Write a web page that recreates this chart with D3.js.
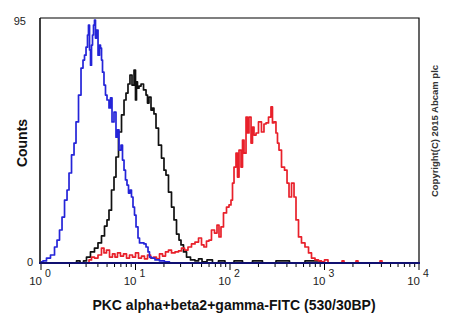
<!DOCTYPE html>
<html>
<head>
<meta charset="utf-8">
<script src="https://cdn.jsdelivr.net/npm/d3@7"></script>
<style>
body { margin: 0; background: #fff; }
text { font-family: "Liberation Sans", Arial, sans-serif; }
</style>
</head>
<body>
<script>
// decades shown on the x axis (log10 of fluorescence)
var decades = [0, 1, 2, 3, 4];
var minorMult = [2, 3, 4, 5, 6, 7, 8, 9];
var yTicks = [0, 95];

// histograms: [log10 fluorescence, counts]
var blue = [[0.000,0.4],[0.042,0.8],[0.074,1.9],[0.127,3.1],[0.159,6.2],[0.180,8.9],[0.212,12.8],[0.233,17.8],[0.265,24.4],[0.286,28.3],[0.307,34.9],[0.339,41.9],[0.360,46.5],[0.381,54.7],[0.413,65.1],[0.434,75.6],[0.455,78.7],[0.466,80.6],[0.487,83.7],[0.497,88.4],[0.508,92.2],[0.519,82.6],[0.529,76.7],[0.540,84.5],[0.550,88.4],[0.561,92.2],[0.571,94.2],[0.582,87.2],[0.593,90.3],[0.614,80.6],[0.624,84.5],[0.635,83.3],[0.646,78.7],[0.656,74.0],[0.677,69.0],[0.688,65.1],[0.709,63.2],[0.730,60.1],[0.741,64.0],[0.762,54.7],[0.783,58.5],[0.804,48.8],[0.815,51.6],[0.836,43.8],[0.857,45.7],[0.868,39.9],[0.889,36.0],[0.899,32.2],[0.921,30.2],[0.931,27.1],[0.952,28.3],[0.963,25.6],[0.984,21.7],[0.995,18.6],[1.016,14.0],[1.037,9.7],[1.048,7.8],[1.079,7.8],[1.101,7.4],[1.122,6.2],[1.143,4.3],[1.153,2.3],[1.185,1.9],[1.228,1.2],[1.280,0.8],[1.333,0.4],[1.386,0],[4,0]];

var black = [[0,0],[0.360,0],[0.392,0.8],[0.434,0],[0.466,0.8],[0.497,2.3],[0.550,4.3],[0.582,5.8],[0.624,7.8],[0.656,10.5],[0.688,14.3],[0.709,16.7],[0.730,20.5],[0.762,28.3],[0.783,33.3],[0.804,41.1],[0.836,50.8],[0.868,57.4],[0.889,63.2],[0.910,65.9],[0.931,69.4],[0.952,72.9],[0.974,69.0],[0.995,74.8],[1.005,63.2],[1.016,70.2],[1.026,67.8],[1.048,68.6],[1.069,69.4],[1.101,67.1],[1.122,65.1],[1.132,62.0],[1.153,64.3],[1.175,59.3],[1.185,60.1],[1.206,57.8],[1.228,52.3],[1.259,45.7],[1.291,40.7],[1.312,36.0],[1.333,34.1],[1.365,27.5],[1.397,21.7],[1.418,16.7],[1.450,11.2],[1.471,8.9],[1.492,7.0],[1.524,4.3],[1.556,2.3],[1.608,1.2],[1.651,0.8],[1.683,1.6],[1.725,0.4],[1.788,1.2],[1.841,0],[1.915,0.8],[1.979,0],[2.106,0.8],[2.159,0],[2.317,0.8],[2.370,0],[2.603,0.8],[2.656,0],[2.931,0.8],[2.974,0],[4,0]];

var red = [[0,0],[0.497,0],[0.519,1.2],[0.550,2.3],[0.582,1.9],[0.624,3.1],[0.656,5.8],[0.677,3.9],[0.709,5.0],[0.741,2.3],[0.772,3.5],[0.794,2.3],[0.825,3.9],[0.857,2.7],[0.889,3.5],[0.921,1.9],[0.952,3.1],[0.984,2.3],[1.016,3.9],[1.048,1.9],[1.079,2.7],[1.111,1.6],[1.143,3.1],[1.175,1.9],[1.206,2.3],[1.238,1.6],[1.270,3.5],[1.302,2.7],[1.333,4.3],[1.365,5.0],[1.397,3.9],[1.439,4.3],[1.471,4.7],[1.503,5.8],[1.534,5.0],[1.577,6.2],[1.608,7.4],[1.651,8.1],[1.683,9.7],[1.714,7.0],[1.735,6.2],[1.767,8.5],[1.788,8.9],[1.820,12.8],[1.852,11.6],[1.873,14.7],[1.894,10.1],[1.915,14.0],[1.947,19.4],[1.979,21.7],[2.000,22.5],[2.021,24.4],[2.032,31.0],[2.053,37.2],[2.074,42.6],[2.085,33.3],[2.106,43.8],[2.127,37.2],[2.138,47.7],[2.159,42.6],[2.180,56.6],[2.190,50.4],[2.212,56.6],[2.233,46.5],[2.243,52.7],[2.265,49.6],[2.286,50.4],[2.317,54.7],[2.349,50.8],[2.370,53.9],[2.392,54.3],[2.423,56.6],[2.444,60.5],[2.455,54.3],[2.476,54.7],[2.497,50.4],[2.508,46.5],[2.529,43.8],[2.561,37.2],[2.593,36.0],[2.614,31.0],[2.635,25.6],[2.667,31.0],[2.688,25.6],[2.709,16.7],[2.741,10.1],[2.772,7.8],[2.815,6.2],[2.847,3.9],[2.878,1.9],[2.921,1.2],[2.952,0.8],[2.984,0.4],[3.016,1.2],[3.058,0],[3.175,0],[3.196,0.8],[3.217,0],[3.323,0],[3.344,0.8],[3.365,0],[3.577,0],[3.598,0.8],[3.619,0],[4,0]];

//Width and height
var w = 450;
var h = 330;
var plotL = 40, plotR = 419, plotT = 18, plotB = 263;

var svg = d3.select("body")
            .append("svg")
            .attr("width", w)
            .attr("height", h);

var xScale = d3.scaleLinear()
            .domain([0, 4])
            .range([plotL + 1, plotR]);

var yScale = d3.scaleLinear()
            .domain([0, 95])
            .range([plotB, plotT]);

//frame: top and right border
svg.append("path")
    .attr("d", "M" + plotL + "," + plotT + "H" + plotR + "V" + plotB)
    .attr("fill", "none")
    .attr("stroke", "#000")
    .attr("stroke-width", 1.2);

//left axis line
svg.append("line")
    .attr("x1", plotL).attr("x2", plotL)
    .attr("y1", plotT).attr("y2", plotB)
    .attr("stroke", "#000")
    .attr("stroke-width", 1.5);

//ticks along x axis, major and minor
var tickVals = [];
decades.forEach(function(d){
    tickVals.push({v: d, major: true});
    if (d < 4) {
        minorMult.forEach(function(m){ tickVals.push({v: d + Math.log10(m), major: false}); });
    }
});

svg.selectAll(".xtick")
    .data(tickVals)
    .enter()
    .append("line")
    .attr("class", "xtick")
    .attr("x1", function(d){ return xScale(d.v); })
    .attr("x2", function(d){ return xScale(d.v); })
    .attr("y1", plotB)
    .attr("y2", function(d){ return plotB + (d.major ? 7 : 4); })
    .attr("stroke", "#000")
    .attr("stroke-width", 1);

//x tick labels: 10 with superscript exponent
var xl = svg.selectAll(".xlab")
    .data(decades)
    .enter()
    .append("g")
    .attr("class", "xlab")
    .attr("transform", function(d){ return "translate(" + xScale(d) + ",0)"; });

xl.append("text")
    .attr("x", 1)
    .attr("y", 285)
    .attr("text-anchor", "end")
    .attr("font-size", 11.5)
    .attr("fill", "#222")
    .text("10");

xl.append("text")
    .attr("x", 4)
    .attr("y", 277)
    .attr("font-size", 10.5)
    .attr("fill", "#222")
    .text(function(d){ return d; });

//y tick labels
svg.selectAll(".ylab")
    .data(yTicks)
    .enter()
    .append("text")
    .attr("class", "ylab")
    .attr("x", function(d){ return d == 0 ? 33 : 26; })
    .attr("y", function(d){ return yScale(d) + (d == 0 ? 3 : 7); })
    .attr("text-anchor", "end")
    .attr("font-size", 11)
    .attr("fill", "#222")
    .text(function(d){ return d; });

//histogram lines
var histLine = d3.line()
                .x(function(d){ return xScale(d[0]); })
                .y(function(d){ return yScale(d[1]); })
                .curve(d3.curveStep);

var series = [
    {data: black, color: "#111111"},
    {data: red, color: "#e8202a"},
    {data: blue, color: "#2424d8"}
];

series.forEach(function(s){
    svg.append("path")
        .datum(s.data)
        .attr("fill", "none")
        .attr("stroke", s.color)
        .attr("stroke-width", 1.7)
        .attr("stroke-linejoin", "round")
        .attr("d", histLine);
});

//bottom axis line (navy)
svg.append("line")
    .attr("x1", plotL - 1).attr("x2", plotR + 1)
    .attr("y1", plotB).attr("y2", plotB)
    .attr("stroke", "#101070")
    .attr("stroke-width", 2);

//label for Y axis
svg.append("text")
    .attr("transform", "translate(27,143) rotate(-90)")
    .attr("text-anchor", "middle")
    .attr("font-size", 14)
    .attr("font-weight", "bold")
    .attr("fill", "#111")
    .text("Counts");

//label for X axis
svg.append("text")
    .attr("x", 234)
    .attr("y", 310)
    .attr("text-anchor", "middle")
    .attr("font-size", 14)
    .attr("font-weight", "bold")
    .attr("fill", "#111")
    .text("PKC alpha+beta2+gamma-FITC (530/30BP)");

//copyright
svg.append("text")
    .attr("transform", "translate(438,131) rotate(-90)")
    .attr("text-anchor", "middle")
    .attr("font-size", 9.5)
    .attr("font-weight", "bold")
    .attr("fill", "#333")
    .text("Copyright(C) 2015 Abcam plc");
</script>
</body>
</html>
